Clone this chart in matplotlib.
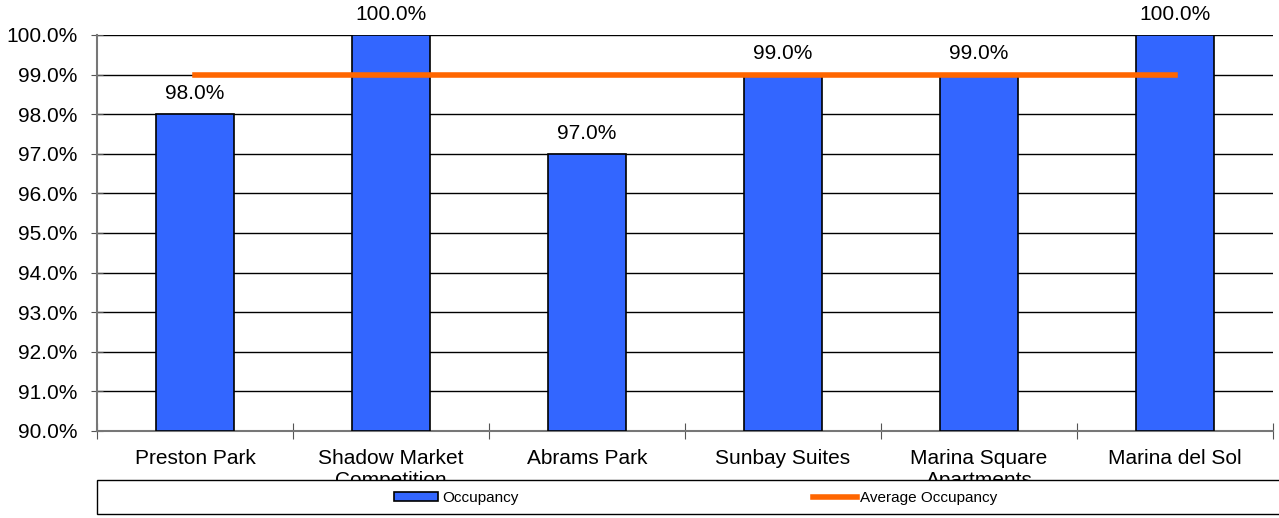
import matplotlib.pyplot as plt
from matplotlib.patches import Rectangle, Patch
from matplotlib.lines import Line2D
from matplotlib.ticker import PercentFormatter, FixedLocator, NullFormatter

plt.rcParams['font.family'] = ['Liberation Sans', 'DejaVu Sans']

properties = ["Preston Park", "Shadow Market\nCompetition", "Abrams Park",
              "Sunbay Suites", "Marina Square\nApartments", "Marina del Sol"]
occupancy = [98.0, 100.0, 97.0, 99.0, 99.0, 100.0]
average = [99.0, 99.0, 99.0, 99.0, 99.0, 99.0]

fig = plt.figure(figsize=(12.79, 5.18), dpi=100)
ax = fig.add_axes([97 / 1279, 1 - 431 / 518, 1176 / 1279, 396 / 518])

x = list(range(len(properties)))
ax.bar(x, [v - 90 for v in occupancy], bottom=90, width=0.4,
       color="#3366FF", edgecolor="black", linewidth=1.2, zorder=3)
ax.plot(x, average, color="#FF6600", linewidth=4, zorder=4,
        solid_capstyle="projecting")

for xi, v in zip(x, occupancy):
    ax.annotate("%.1f%%" % v, (xi, v), xytext=(0, 8), textcoords="offset points",
                ha="center", va="bottom", fontsize=15, annotation_clip=False)

ax.set_xlim(-0.5, len(properties) - 0.5)
ax.set_ylim(90, 100)
ax.set_yticks([90 + i for i in range(11)])
ax.yaxis.set_major_formatter(PercentFormatter(decimals=1))
ax.grid(axis="y", color="black", linewidth=1, zorder=0)

ax.xaxis.set_major_locator(FixedLocator([i - 0.5 for i in range(len(properties) + 1)]))
ax.xaxis.set_major_formatter(NullFormatter())
ax.xaxis.set_minor_locator(FixedLocator(x))
ax.set_xticklabels(properties, minor=True, fontsize=15, va="top", linespacing=1.2)
ax.tick_params(axis="x", which="minor", length=0, pad=13)
ax.tick_params(axis="x", which="major", direction="inout", length=12, color="#555555")
ax.tick_params(axis="y", direction="inout", length=8, color="#555555", labelsize=15, pad=10)

for s in ["top", "right"]:
    ax.spines[s].set_visible(False)
for s in ["left", "bottom"]:
    ax.spines[s].set_color("#777777")
    ax.spines[s].set_linewidth(1.5)

# legend box below the plot, covering the second line of the long labels
box = Rectangle((97 / 1279, 1 - 514 / 518), 1.2, 34 / 518, transform=fig.transFigure,
                facecolor="white", edgecolor="black", linewidth=1, zorder=5)
fig.patches.append(box)
handles = [Patch(facecolor="#3366FF", edgecolor="black", linewidth=1.2),
           Line2D([0], [0], color="#FF6600", linewidth=4)]
fig.legend(handles, ["Occupancy", "Average Occupancy"], ncol=2, loc="center",
           bbox_to_anchor=(696 / 1279, 1 - 498 / 518), frameon=False, fontsize=11,
           handlelength=2.85, handleheight=0.6, handletextpad=0.25, columnspacing=19.3)

fig.savefig("out.png", dpi=100)
